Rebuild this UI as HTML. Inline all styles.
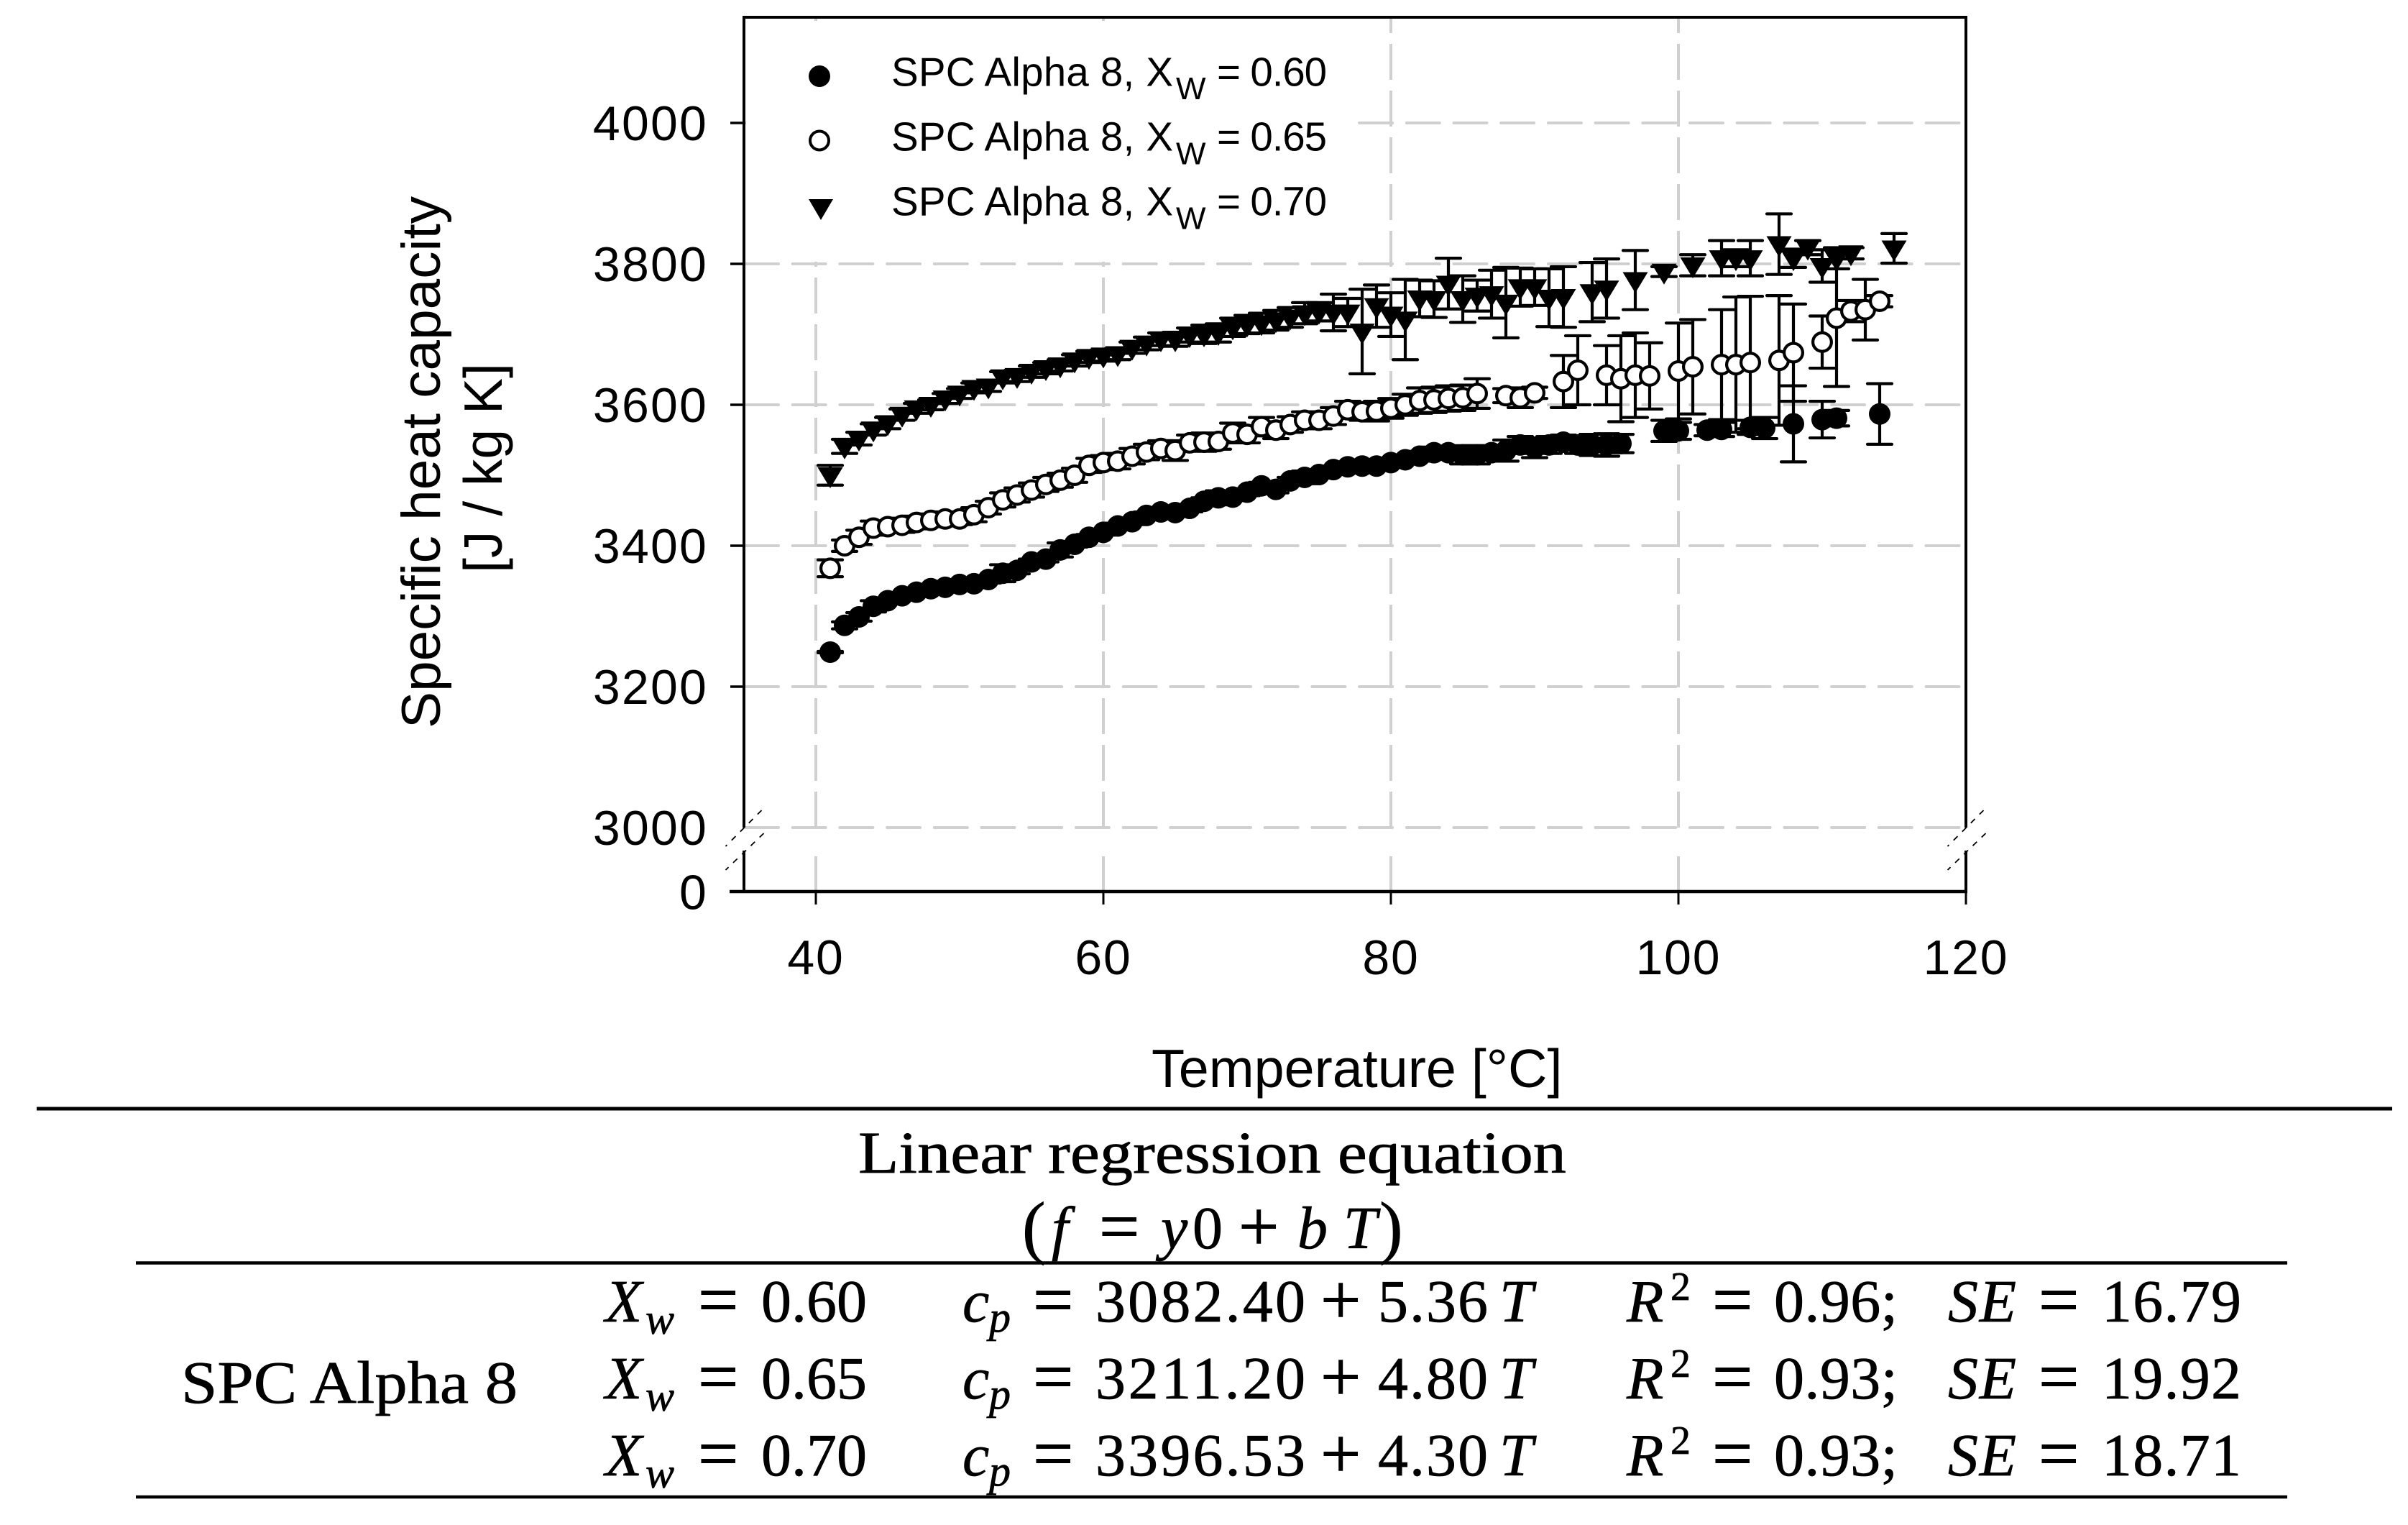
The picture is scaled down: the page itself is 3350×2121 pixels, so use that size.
<!DOCTYPE html>
<html lang="en">
<head>
<meta charset="utf-8">
<title>Specific heat capacity of SPC Alpha 8</title>
<style>
html,body{margin:0;padding:0;background:#fff;width:3350px;height:2121px;overflow:hidden}
svg{display:block}
.sans{font-family:"Liberation Sans",Arial,sans-serif;fill:#000}
.serif{font-family:"Liberation Serif","Times New Roman",serif;fill:#000;font-size:84px;stroke:#000;stroke-width:.7px}
.it{font-style:italic}
.sub{font-style:italic;font-size:60px}
.sup{font-size:56px}
.eq{font-size:100px;stroke-width:1px}
.paren{font-size:98px}
.leg{font-size:56.5px}
.legsub{font-size:44px}
</style>
</head>
<body>
<svg id="figure" xmlns="http://www.w3.org/2000/svg" width="3350" height="2121" viewBox="0 0 3350 2121">
  <rect x="0" y="0" width="3350" height="2121" fill="#fff"/>
  <g id="grid"></g>
  <rect x="1038" y="29" width="848" height="335" fill="#fff"/>
  <g id="grid-top"></g>
  <g id="axes"></g>
  <g id="err-a"></g>
  <g id="mark-a"></g>
  <g id="err-b"></g>
  <g id="mark-b"></g>
  <g id="err-c"></g>
  <g id="mark-c"></g>
  <g id="labels"></g>

  <g>
    <circle cx="1140" cy="106" r="15" fill="#000"/>
    <text class="sans leg" x="1240" y="119.5" textLength="392">SPC Alpha 8, X</text>
    <text class="sans legsub" x="1636" y="138">W</text>
    <text class="sans leg" x="1693" y="119.5" textLength="153">= 0.60</text>
    <circle cx="1140" cy="195.5" r="13" fill="#fff" stroke="#000" stroke-width="4"/>
    <text class="sans leg" x="1240" y="209.5" textLength="392">SPC Alpha 8, X</text>
    <text class="sans legsub" x="1636" y="228.5">W</text>
    <text class="sans leg" x="1693" y="209.5" textLength="153">= 0.65</text>
    <polygon points="1125,277 1159,277 1142,306" fill="#000"/>
    <text class="sans leg" x="1240" y="299.5" textLength="392">SPC Alpha 8, X</text>
    <text class="sans legsub" x="1636" y="318.5">W</text>
    <text class="sans leg" x="1693" y="299.5" textLength="153">= 0.70</text>
  </g>

  <text class="sans" font-size="76.5" text-anchor="middle" transform="translate(612 643) rotate(-90)">Specific heat capacity</text>
  <text class="sans" font-size="75" text-anchor="middle" transform="translate(698 651) rotate(-90)">[J / kg K]</text>
  <text class="sans" font-size="75.5" x="1602" y="1512">Temperature [°C]</text>

  <line x1="51" x2="3328" y1="1542" y2="1542" stroke="#000" stroke-width="5"/>
  <text class="serif" style="font-size:83px" x="1194" y="1631" textLength="985" lengthAdjust="spacingAndGlyphs">Linear regression equation</text>
  <g>
    <text class="serif paren" x="1422" y="1739">(</text>
    <text class="serif it" x="1463" y="1736">f</text>
    <text class="serif eq" x="1529" y="1739">=</text>
    <text class="serif it" x="1615" y="1736">y</text>
    <text class="serif" x="1659" y="1736">0</text>
    <text class="serif eq" x="1723" y="1739">+</text>
    <text class="serif it" x="1805" y="1736">b</text>
    <text class="serif it" x="1869" y="1736">T</text>
    <text class="serif paren" x="1919" y="1739">)</text>
  </g>
  <line x1="189" x2="3182" y1="1756.5" y2="1756.5" stroke="#000" stroke-width="4.5"/>
  <line x1="189" x2="3182" y1="2082" y2="2082" stroke="#000" stroke-width="4.5"/>

  <text class="serif" x="252" y="1951" textLength="468" lengthAdjust="spacingAndGlyphs">SPC Alpha 8</text>

  <g>
    <text class="serif it" x="842" y="1838">X</text><text class="serif sub" x="898" y="1855">w</text><text class="serif eq" x="971" y="1841">=</text><text class="serif" x="1059" y="1838" textLength="147">0.60</text>
    <text class="serif it" x="1339" y="1838">c</text><text class="serif sub" x="1376" y="1852">p</text><text class="serif eq" x="1437" y="1841">=</text><text class="serif" x="1524" y="1838" textLength="292">3082.40</text>
    <text class="serif eq" x="1837" y="1841">+</text><text class="serif" x="1917" y="1838" textLength="153">5.36</text><text class="serif it" x="2086" y="1838">T</text>
    <text class="serif it" x="2263" y="1838">R</text><text class="serif sup" x="2324" y="1808">2</text><text class="serif eq" x="2382" y="1841">=</text><text class="serif" x="2468" y="1838" textLength="172">0.96;</text>
    <text class="serif it" x="2710" y="1838" textLength="95">SE</text><text class="serif eq" x="2836" y="1841">=</text><text class="serif" x="2924" y="1838" textLength="194">16.79</text>
  </g>
  <g>
    <text class="serif it" x="842" y="1945">X</text><text class="serif sub" x="898" y="1962">w</text><text class="serif eq" x="971" y="1948">=</text><text class="serif" x="1059" y="1945" textLength="147">0.65</text>
    <text class="serif it" x="1339" y="1945">c</text><text class="serif sub" x="1376" y="1959">p</text><text class="serif eq" x="1437" y="1948">=</text><text class="serif" x="1524" y="1945" textLength="292">3211.20</text>
    <text class="serif eq" x="1837" y="1948">+</text><text class="serif" x="1917" y="1945" textLength="153">4.80</text><text class="serif it" x="2086" y="1945">T</text>
    <text class="serif it" x="2263" y="1945">R</text><text class="serif sup" x="2324" y="1915">2</text><text class="serif eq" x="2382" y="1948">=</text><text class="serif" x="2468" y="1945" textLength="172">0.93;</text>
    <text class="serif it" x="2710" y="1945" textLength="95">SE</text><text class="serif eq" x="2836" y="1948">=</text><text class="serif" x="2924" y="1945" textLength="194">19.92</text>
  </g>
  <g>
    <text class="serif it" x="842" y="2052">X</text><text class="serif sub" x="898" y="2069">w</text><text class="serif eq" x="971" y="2055">=</text><text class="serif" x="1059" y="2052" textLength="147">0.70</text>
    <text class="serif it" x="1339" y="2052">c</text><text class="serif sub" x="1376" y="2066">p</text><text class="serif eq" x="1437" y="2055">=</text><text class="serif" x="1524" y="2052" textLength="292">3396.53</text>
    <text class="serif eq" x="1837" y="2055">+</text><text class="serif" x="1917" y="2052" textLength="153">4.30</text><text class="serif it" x="2086" y="2052">T</text>
    <text class="serif it" x="2263" y="2052">R</text><text class="serif sup" x="2324" y="2022">2</text><text class="serif eq" x="2382" y="2055">=</text><text class="serif" x="2468" y="2052" textLength="172">0.93;</text>
    <text class="serif it" x="2710" y="2052" textLength="95">SE</text><text class="serif eq" x="2836" y="2055">=</text><text class="serif" x="2924" y="2052" textLength="194">18.71</text>
  </g>
</svg>

<script>
// ---- chart data ----
const xTicks = [40, 60, 80, 100, 120];
const yTicks = [3000, 3200, 3400, 3600, 3800, 4000];
const yTickZero = 0;

const tempsA = [41,42,43,44,45,46,47,48,49,50,51,52,53,54,55,56,57,58,59,60,61,62,63,64,65,66,67,68,69,70,71,72,73,74,75,76,77,78,79,80,81,82,83,84,85,86,87,88,89,90,91,92,93,94,95,96,99,100,102,103,105,106,108,110,111,114];
const cpA = [3249,3287,3299,3314,3322,3329,3334,3339,3341,3345,3346,3352,3361,3365,3377,3381,3394,3402,3412,3419,3428,3434,3443,3448,3447,3453,3463,3468,3469,3476,3485,3480,3492,3497,3501,3508,3512,3513,3513,3518,3522,3527,3532,3532,3529,3529,3532,3535,3543,3539,3543,3547,3543,3543,3543,3545,3563,3563,3564,3565,3568,3567,3573,3579,3581,3587];
const errA = [1,5,6,8,4,4,5,5,5,5,5,5,12,5,4,4,10,4,4,4,4,4,5,5,5,5,5,10,5,5,5,5,5,9,5,5,5,6,6,6,6,7,8,8,13,13,10,15,12,14,12,10,12,15,16,13,15,12,8,10,10,15,54,26,11,43];

const tempsB = [41,42,43,44,45,46,47,48,49,50,51,52,53,54,55,56,57,58,59,60,61,62,63,64,65,66,67,68,69,70,71,72,73,74,75,76,77,78,79,80,81,82,83,84,85,86,88,89,90,92,93,95,96,97,98,100,101,103,104,105,107,108,110,111,112,113,114];
const cpB = [3368,3400,3412,3425,3427,3429,3433,3436,3438,3438,3444,3454,3465,3472,3479,3487,3493,3500,3514,3518,3520,3527,3533,3538,3535,3546,3547,3548,3560,3558,3569,3564,3572,3578,3578,3584,3593,3590,3591,3595,3600,3606,3607,3609,3610,3616,3613,3610,3617,3633,3649,3642,3637,3642,3641,3648,3654,3657,3657,3660,3663,3674,3689,3723,3733,3735,3747];
const errB = [12,8,10,10,6,10,9,9,10,8,10,9,10,10,10,10,10,10,10,10,11,11,11,11,14,11,13,11,14,12,13,12,11,12,12,12,12,12,14,14,15,18,18,18,18,21,10,14,8,37,49,42,61,60,47,68,67,78,96,94,92,69,37,97,15,43,8];

const tempsC = [41,42,43,44,45,46,47,48,49,50,51,52,53,54,55,56,57,58,59,60,61,62,63,64,65,66,67,68,69,70,71,72,73,74,75,76,77,78,79,80,81,82,83,84,85,86,87,88,89,90,91,92,94,95,97,99,101,103,104,105,107,108,109,110,111,112,115];
const cpC = [3500,3541,3552,3565,3574,3586,3595,3600,3609,3616,3624,3626,3639,3641,3647,3652,3656,3663,3668,3670,3672,3681,3687,3693,3693,3699,3700,3702,3710,3714,3716,3720,3724,3730,3732,3731,3731,3704,3740,3728,3721,3751,3750,3772,3750,3755,3757,3745,3767,3767,3752,3753,3760,3765,3777,3789,3798,3808,3808,3808,3828,3808,3823,3797,3808,3815,3822];
const errC = [14,10,9,8,8,8,7,7,7,7,7,7,8,8,8,8,8,8,8,8,8,8,9,9,10,10,13,13,13,13,14,14,14,15,13,26,20,60,30,31,57,26,26,36,33,22,34,50,27,26,41,43,42,42,42,7,15,25,12,25,43,13,10,23,15,8,21];

// ---- axis functions ----
function xScale(t){ return 1135 + (t - 40) * 20.0; }
function yScale(v){ return v >= 3000 ? 1151 - (v - 3000) * 0.98 : 1240; }

const NS = 'http://www.w3.org/2000/svg';
function make(tag, attrs, parentId){
  const e = document.createElementNS(NS, tag);
  for (const k in attrs) e.setAttribute(k, attrs[k]);
  document.getElementById(parentId).appendChild(e);
  return e;
}
const GRID = '#d0d0d0';
const AXIS_TOP = 24, AXIS_BOTTOM = 1240, BREAK_TOP = 1151, BREAK_BOTTOM = 1183;
const AXIS_LEFT = xScale(35), AXIS_RIGHT = xScale(120);

// horizontal grid
yTicks.forEach(function(v){
  const parent = v === 3800 ? 'grid-top' : 'grid';
  const l = make('line', {x1: AXIS_LEFT + 2, x2: AXIS_RIGHT, y1: yScale(v), y2: yScale(v), stroke: GRID, 'stroke-width': 4, 'stroke-dasharray': '46 19.7', 'stroke-linecap': 'round'}, parent);
  
  
});
// vertical grid
xTicks.slice(0, 4).forEach(function(t){
  const up = make('line', {x1: xScale(t), x2: xScale(t), y1: yScale(3000), y2: AXIS_TOP, stroke: GRID, 'stroke-width': 4, 'stroke-dasharray': '50 15'}, 'grid');
  
  
  const low = make('line', {x1: xScale(t), x2: xScale(t), y1: AXIS_BOTTOM, y2: 1191, stroke: GRID, 'stroke-width': 4}, 'grid');
  
  
});

// axes frame
const frame = [
  ['top-axis-line', AXIS_LEFT - 2, AXIS_TOP, AXIS_RIGHT + 2, AXIS_TOP, 4],
  ['left-axis-upper', AXIS_LEFT, AXIS_TOP, AXIS_LEFT, BREAK_TOP, 4],
  ['left-axis-lower', AXIS_LEFT, BREAK_BOTTOM, AXIS_LEFT, AXIS_BOTTOM, 4],
  ['right-axis-upper', AXIS_RIGHT, AXIS_TOP, AXIS_RIGHT, BREAK_TOP, 4],
  ['right-axis-lower', AXIS_RIGHT, BREAK_BOTTOM, AXIS_RIGHT, AXIS_BOTTOM, 4],
  ['bottom-axis-line', 1015, AXIS_BOTTOM, AXIS_RIGHT + 2, AXIS_BOTTOM, 4.4]
];
frame.forEach(function(f){
  const l = make('line', {x1: f[1], y1: f[2], x2: f[3], y2: f[4], stroke: '#000', 'stroke-width': f[5]}, 'axes');
  
  
});

// axis break marks
[AXIS_LEFT, AXIS_RIGHT].forEach(function(ax){
  [[24.5, 1127, -25.5, 1177], [27.5, 1159, -25.5, 1210]].forEach(function(s){
    const b = make('line', {x1: ax + s[0], y1: s[1], x2: ax + s[2], y2: s[3], stroke: '#000', 'stroke-width': 1.8, 'stroke-dasharray': '8 9'}, 'axes');
    
    
  });
});

// ticks and labels
yTicks.forEach(function(v){
  if (v !== 3000) {
    const t = make('line', {x1: 1016, x2: AXIS_LEFT, y1: yScale(v), y2: yScale(v), stroke: '#000', 'stroke-width': 3.6}, 'axes');
    
    
  }
  const txt = make('text', {x: 985, y: yScale(v) + 24, 'text-anchor': 'end', 'font-size': 68, 'letter-spacing': 2.2, 'class': 'sans'}, 'labels');
  txt.textContent = String(v);
  
  
});
const zeroLabel = make('text', {x: 985, y: yScale(yTickZero) + 24.5, 'text-anchor': 'end', 'font-size': 68, 'letter-spacing': 2.2, 'class': 'sans'}, 'labels');
zeroLabel.textContent = String(yTickZero);



xTicks.forEach(function(t){
  const tk = make('line', {x1: xScale(t), x2: xScale(t), y1: AXIS_BOTTOM, y2: 1258, stroke: '#000', 'stroke-width': 3}, 'axes');
  
  
  const txt = make('text', {x: xScale(t), y: 1355, 'text-anchor': 'middle', 'font-size': 68, 'letter-spacing': 1.8, 'class': 'sans'}, 'labels');
  txt.textContent = String(t);
  
  
});

// error bars
function drawErrors(temps, values, errs, parentId){
  temps.forEach(function(t, i){
    const x = xScale(t), hi = yScale(values[i] + errs[i]), lo = yScale(values[i] - errs[i]);
    const d = 'M' + x + ' ' + hi + 'V' + lo + 'M' + (x - 17) + ' ' + hi + 'H' + (x + 17) + 'M' + (x - 17) + ' ' + lo + 'H' + (x + 17);
    const p = make('path', {d: d, fill: 'none', stroke: '#000', 'stroke-width': 4.2, 'stroke-linecap': 'round'}, parentId);
    
    
  });
}
drawErrors(tempsA, cpA, errA, 'err-a');
drawErrors(tempsB, cpB, errB, 'err-b');
drawErrors(tempsC, cpC, errC, 'err-c');

// markers
tempsA.forEach(function(t, i){
  const c = make('circle', {cx: xScale(t), cy: yScale(cpA[i]), r: 15, fill: '#000'}, 'mark-a');
  
  
});
tempsB.forEach(function(t, i){
  const c = make('circle', {cx: xScale(t), cy: yScale(cpB[i]), r: 12.9, fill: '#fff', stroke: '#000', 'stroke-width': 4.2}, 'mark-b');
  
  
});
tempsC.forEach(function(t, i){
  const x = xScale(t), y = yScale(cpC[i]);
  const pts = (x - 17.5) + ',' + (y - 11) + ' ' + (x + 17.5) + ',' + (y - 11) + ' ' + x + ',' + (y + 18);
  const m = make('polygon', {points: pts, fill: '#000'}, 'mark-c');
  
  
});
</script>
</body>
</html>
